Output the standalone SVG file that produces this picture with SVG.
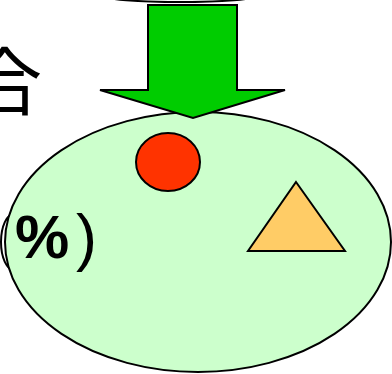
<svg xmlns="http://www.w3.org/2000/svg" width="392" height="374" viewBox="0 0 392 374">
<style>
.ol{stroke:#000;stroke-width:2}
.t{font-family:"Liberation Sans","Noto Sans CJK JP",sans-serif;fill:#000}
</style>
<rect width="392" height="374" fill="#fff"/>
<g id="top-shape"><ellipse cx="180" cy="-4" rx="76" ry="6" fill="#fff" class="ol"/></g>
<g id="label-kanji"><text class="t" x="-32" y="109" font-size="74" font-family="'Noto Sans CJK JP',sans-serif">合</text></g>
<g id="left-shape"><ellipse cx="14" cy="242" rx="13" ry="28" fill="#fff" class="ol"/></g>
<g id="big-ellipse"><ellipse cx="198" cy="242" rx="193" ry="130" fill="#CCFFCC" class="ol"/></g>
<g id="arrow"><path d="M148,5 H237 V90 H285 L193,118 L100,90 H148 Z" fill="#00CC00" class="ol"/></g>
<g id="circle"><ellipse cx="168" cy="162" rx="32" ry="29" fill="#FF3300" class="ol"/></g>
<g id="triangle"><path d="M296,182 L345,251 L248,251 Z" fill="#FFCC66" class="ol"/></g>
<g id="label-pct"><text class="t" y="258"><tspan x="15" font-size="61" font-weight="bold">%</tspan><tspan x="76" font-size="63" dy="1">)</tspan></text></g>
</svg>
